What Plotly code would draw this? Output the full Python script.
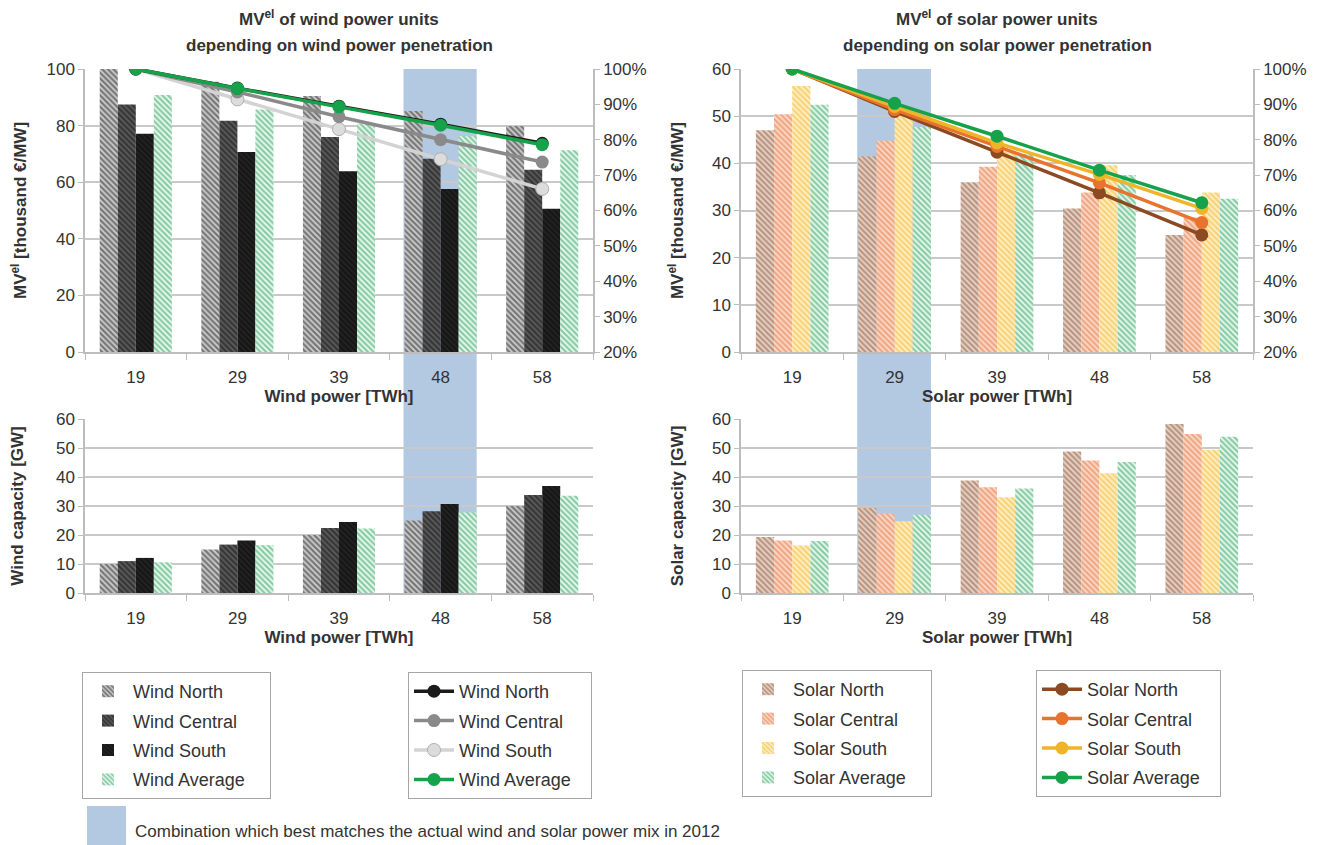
import plotly.graph_objects as go

categories = ["19", "29", "39", "48", "58"]

# MV^el of wind units [thousand EUR/MW] (bars, left axis)
wind_mv_north = [100, 95.5, 90.5, 85.2, 79.9]
wind_mv_central = [87.5, 81.7, 76.0, 68.3, 64.4]
wind_mv_south = [77.1, 70.7, 63.9, 57.6, 50.6]
wind_mv_average = [90.8, 85.7, 80.7, 76.2, 71.3]

# relative MV^el of wind units [%] (lines, right axis)
wind_rel_north = [100, 94.6, 89.5, 84.4, 79.0]
wind_rel_central = [100, 93.5, 86.5, 80.0, 73.7]
wind_rel_south = [100, 91.4, 83.0, 74.5, 66.1]
wind_rel_average = [100, 94.5, 89.3, 84.1, 78.6]

# wind capacity [GW]
wind_cap_north = [10.0, 15.0, 20.0, 25.0, 30.0]
wind_cap_central = [11.0, 16.7, 22.4, 28.2, 33.8]
wind_cap_south = [12.1, 18.1, 24.5, 30.7, 36.9]
wind_cap_average = [10.6, 16.5, 22.2, 27.8, 33.5]

# MV^el of solar units [thousand EUR/MW]
solar_mv_north = [47.0, 41.5, 36.0, 30.4, 24.8]
solar_mv_central = [50.4, 44.8, 39.3, 33.8, 28.5]
solar_mv_south = [56.4, 51.0, 42.5, 39.6, 33.8]
solar_mv_average = [52.4, 47.7, 42.0, 37.5, 32.5]

# relative MV^el of solar units [%]
solar_rel_north = [100, 88.0, 76.5, 65.0, 53.1]
solar_rel_central = [100, 88.5, 78.1, 67.8, 56.6]
solar_rel_south = [100, 89.4, 79.1, 70.2, 60.6]
solar_rel_average = [100, 90.3, 81.0, 71.4, 62.2]

# solar capacity [GW]
solar_cap_north = [19.3, 29.3, 38.8, 48.8, 58.3]
solar_cap_central = [18.1, 27.3, 36.5, 45.7, 54.8]
solar_cap_south = [16.4, 24.7, 33.0, 41.3, 49.4]
solar_cap_average = [17.9, 27.0, 36.0, 45.2, 53.9]

wind_best_index = 3   # 48 TWh
solar_best_index = 1  # 29 TWh

FONT = "Liberation Sans, Arial, sans-serif"
TXT = "#333333"
GRID = "#c9c9c9"
AXL = "#bdbdbd"
BAND = "#b3c8e1"
GREEN = "#16a24a"

# (stripe colour, background colour)
bar_styles = {
    "Wind North": ("#1e1e1e", "#d2d2d2"),
    "Wind Central": ("#0e0e0e", "#5e5e5e"),
    "Wind South": ("#080808", "#242424"),
    "Wind Average": ("#1f9e55", "#f2fbf5"),
    "Solar North": ("#8a5233", "#ead8ce"),
    "Solar Central": ("#e2733d", "#fbdccc"),
    "Solar South": ("#f1b425", "#fff1cc"),
    "Solar Average": ("#1f9e55", "#f2fbf5"),
}

line_styles = {
    "Wind North": ("#1b1b1b", "#1b1b1b"),
    "Wind Central": ("#8a8a8a", "#8a8a8a"),
    "Wind South": ("#d3d3d3", "#dcdcdc"),
    "Wind Average": (GREEN, GREEN),
    "Solar North": ("#8b4a22", "#8b4a22"),
    "Solar Central": ("#e8732e", "#e8732e"),
    "Solar South": ("#f0b429", "#f0b429"),
    "Solar Average": (GREEN, GREEN),
}

order = {"North": 1, "Central": 2, "South": 3, "Average": 4}
PAD_BAR = "&nbsp;" * 4
PAD_LINE = "&nbsp;" * 3

fig = go.Figure()


def add_bar(name, values, xa, ya, legend, show):
    fg, bg = bar_styles[name]
    fig.add_trace(go.Bar(
        x=categories, y=values, name=name + PAD_BAR, xaxis=xa, yaxis=ya,
        marker=dict(color=bg, line=dict(width=0),
                    pattern=dict(shape="\\", size=4, solidity=0.6,
                                 fgcolor=fg, bgcolor=bg)),
        legend=legend, showlegend=show, legendgroup=legend + name,
        legendrank=order[name.split()[1]],
    ))


def add_line(name, values, xa, ya, legend):
    lc, mc = line_styles[name]
    mline = dict(width=1, color="#b0b0b0") if name == "Wind South" else dict(width=0)
    fig.add_trace(go.Scatter(
        x=categories, y=values, name=name + PAD_LINE, xaxis=xa, yaxis=ya,
        mode="lines+markers",
        line=dict(color=lc, width=3.5),
        marker=dict(size=13, color=mc, line=mline),
        legend=legend, legendgroup=legend + name,
        legendrank=order[name.split()[1]],
    ))


for nm, vals in [("Wind North", wind_mv_north), ("Wind Central", wind_mv_central),
                 ("Wind South", wind_mv_south), ("Wind Average", wind_mv_average)]:
    add_bar(nm, vals, "x", "y", "legend", True)
for nm, vals in [("Wind North", wind_cap_north), ("Wind Central", wind_cap_central),
                 ("Wind South", wind_cap_south), ("Wind Average", wind_cap_average)]:
    add_bar(nm, vals, "x3", "y5", "legend", False)
for nm, vals in [("Solar North", solar_mv_north), ("Solar Central", solar_mv_central),
                 ("Solar South", solar_mv_south), ("Solar Average", solar_mv_average)]:
    add_bar(nm, vals, "x2", "y3", "legend3", True)
for nm, vals in [("Solar North", solar_cap_north), ("Solar Central", solar_cap_central),
                 ("Solar South", solar_cap_south), ("Solar Average", solar_cap_average)]:
    add_bar(nm, vals, "x4", "y6", "legend3", False)

for nm, vals in [("Wind South", wind_rel_south), ("Wind Central", wind_rel_central),
                 ("Wind North", wind_rel_north), ("Wind Average", wind_rel_average)]:
    add_line(nm, vals, "x", "y2", "legend2")
for nm, vals in [("Solar North", solar_rel_north), ("Solar Central", solar_rel_central),
                 ("Solar South", solar_rel_south), ("Solar Average", solar_rel_average)]:
    add_line(nm, vals, "x2", "y4", "legend4")

OFF = 8  # page body margin
W, H = 1331 - OFF, 845 - OFF


def px(xp):
    return (xp - OFF) / W


def py(yp):
    return 1 - (yp - OFF) / H


top_dom = [py(352), py(69)]
bot_dom = [py(593), py(419)]
wind_dom = [px(85), px(593)]
solar_dom = [px(741), px(1253)]

tickfont = dict(family=FONT, size=17, color=TXT)
titlefont = dict(family=FONT, size=17, color=TXT, weight="bold")


def xax(dom, anchor, title):
    return dict(domain=dom, anchor=anchor, type="category", tickson="boundaries",
                ticks="outside", ticklen=6, tickcolor=AXL, showline=True,
                linecolor=AXL, linewidth=1.5, showgrid=False, tickfont=tickfont,
                ticklabelstandoff=9,
                title=dict(text=title, font=titlefont, standoff=0),
                range=[-0.5, 4.5], automargin=False)


def yax(dom, anchor, rng, dtick, title, standoff):
    return dict(domain=dom, anchor=anchor, range=rng, dtick=dtick,
                ticks="outside", ticklen=5, tickcolor=AXL, showline=True,
                linecolor=AXL, linewidth=1.5, showgrid=True, gridcolor=GRID,
                gridwidth=1.5, zeroline=False, tickfont=tickfont, automargin=False,
                title=dict(text=title, font=titlefont, standoff=standoff))


def y2ax(over, anchor):
    return dict(overlaying=over, anchor=anchor, side="right", range=[20, 100],
                dtick=10, ticksuffix="%", ticks="outside", ticklen=5,
                tickcolor=AXL, showline=True, linecolor=AXL, linewidth=1.5,
                showgrid=False, zeroline=False, tickfont=tickfont, automargin=False)


mv_title = "MV<sup>el</sup> [thousand €/MW]"

legend_common = dict(xanchor="left", yanchor="top", bgcolor="white",
                     bordercolor="#a6a6a6", borderwidth=1,
                     font=dict(family=FONT, size=18, color=TXT),
                     tracegroupgap=3, traceorder="grouped", itemwidth=40)

fig.update_layout(
    width=W, height=H, margin=dict(l=0, r=0, t=0, b=0, autoexpand=False),
    paper_bgcolor="white", plot_bgcolor="rgba(0,0,0,0)",
    font=dict(family=FONT, color=TXT),
    barmode="group", bargap=0.29, bargroupgap=0,
    xaxis=xax(wind_dom, "y", "Wind power [TWh]"),
    yaxis=yax(top_dom, "x", [0, 100], 20, mv_title, 20),
    yaxis2=y2ax("y", "x"),
    xaxis2=xax(solar_dom, "y3", "Solar power [TWh]"),
    yaxis3=yax(top_dom, "x2", [0, 60], 10, mv_title, 24),
    yaxis4=y2ax("y3", "x2"),
    xaxis3=xax(wind_dom, "y5", "Wind power [TWh]"),
    yaxis5=yax(bot_dom, "x3", [0, 60], 10, "Wind capacity [GW]", 28),
    xaxis4=xax(solar_dom, "y6", "Solar power [TWh]"),
    yaxis6=yax(bot_dom, "x4", [0, 60], 10, "Solar capacity [GW]", 24),
    legend=dict(x=px(82), y=py(672), **legend_common),
    legend2=dict(x=px(408), y=py(672), **legend_common),
    legend3=dict(x=px(742), y=py(670), **legend_common),
    legend4=dict(x=px(1036), y=py(670), **legend_common),
    showlegend=True,
)

for xr, idx in [("x", wind_best_index), ("x2", solar_best_index)]:
    fig.add_shape(type="rect", xref=xr, yref="paper",
                  x0=idx - 0.365, x1=idx + 0.355, y0=bot_dom[0], y1=top_dom[1],
                  fillcolor=BAND, line=dict(width=0), layer="below")

titles = [
    (wind_dom, "MV<sup>el</sup> of wind power units", "depending on wind power penetration"),
    (solar_dom, "MV<sup>el</sup> of solar power units", "depending on solar power penetration"),
]
for dom, line1, line2 in titles:
    for text, ypix in [(line1, 18), (line2, 45)]:
        fig.add_annotation(x=(dom[0] + dom[1]) / 2, y=py(ypix), xref="paper", yref="paper",
                           text="<b>" + text + "</b>", showarrow=False,
                           font=dict(family=FONT, size=17, color=TXT),
                           xanchor="center", yanchor="middle")

fig.add_shape(type="rect", xref="paper", yref="paper", x0=px(87), x1=px(126),
              y0=py(845), y1=py(806), fillcolor=BAND, line=dict(width=0))
fig.add_annotation(x=px(133), y=py(831), xref="paper", yref="paper",
                   text="Combination which best matches the actual wind and solar power mix in 2012",
                   showarrow=False, xanchor="left", yanchor="middle",
                   font=dict(family=FONT, size=17, color=TXT))

fig.write_html("out.html")
